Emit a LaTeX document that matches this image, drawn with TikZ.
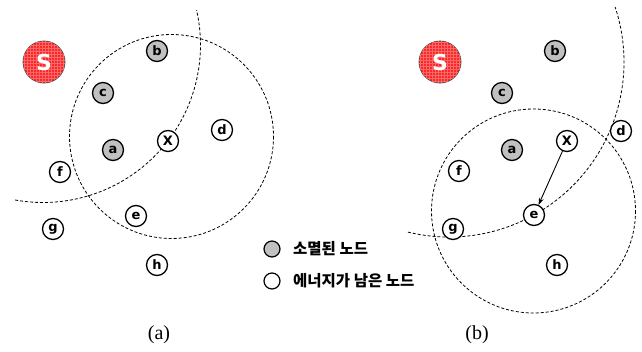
\documentclass[tikz,border=0pt]{standalone}
\usepackage{fontspec}
\setmainfont{Liberation Serif}
\newfontfamily\nodefont{DejaVu Sans}
\newfontfamily\krfont{Noto Sans CJK KR}
\usetikzlibrary{patterns,arrows.meta}
\definecolor{srcred}{RGB}{250,40,40}
\definecolor{deadgray}{RGB}{192,192,192}
\tikzset{
  nd/.style={circle,draw=black,line width=1.3pt,fill=white,minimum size=21pt,inner sep=0pt,
    font=\nodefont\bfseries\fontsize{13}{13}\selectfont},
  dead/.style={nd,fill=deadgray},
  src/.style={circle,draw=black!70,line width=0.8pt,fill=srcred,minimum size=42pt,inner sep=0pt,
    text=white,font=\nodefont\bfseries\fontsize{22}{22}\selectfont,
    postaction={pattern=grid,pattern color=white!30!srcred}},
  rng/.style={draw=black,line width=0.8pt,dash pattern=on 3pt off 2pt},
  leg/.style={circle,draw=black,line width=1.2pt,minimum size=16pt,inner sep=0pt},
  legtext/.style={anchor=west,font=\krfont\bfseries\fontsize{15.5}{16}\selectfont,inner sep=0pt},
  captxt/.style={font=\fontsize{20}{20}\selectfont,inner sep=0pt}
}
\begin{document}
\begin{tikzpicture}[x=1pt,y=-1pt]
\useasboundingbox (0,0) rectangle (642,351);
% ---------- panel (a) ----------
\coordinate (ca) at (43,45);
\coordinate (ra) at (171.5,136.5);
\draw[rng] (ra) circle[radius=102];
\draw[rng] (ca) ++(100.2:157.5) arc[start angle=100.2,end angle=-12.8,radius=157.5];
\node[src] (Sa) at (44,62) {S};
\node[dead] (ba) at (157,51) {b};
\node[dead] (ca1) at (103,93) {c};
\node[dead] (aa) at (113,150) {a};
\node[nd] (Xa) at (168,141) {X};
\node[nd] (da) at (222,130) {d};
\node[nd] (fa) at (60,172) {f};
\node[nd] (ea) at (136,216) {e};
\node[nd] (ga) at (53,229) {g};
\node[nd] (ha) at (157,265) {h};
\node[captxt] (capa) at (159,335) {(a)};
% ---------- panel (b) ----------
\coordinate (cb) at (449,62);
\coordinate (rb) at (533.5,211);
\draw[rng] (rb) circle[radius=102];
\draw[rng] (cb) ++(103.6:175) arc[start angle=103.6,end angle=-18.3,radius=175];
\node[src] (Sb) at (440,62) {S};
\node[dead] (bb) at (555,51) {b};
\node[dead] (cb1) at (502,93) {c};
\node[dead] (ab) at (512,150) {a};
\node[nd] (Xb) at (567,141) {X};
\node[nd] (db) at (621,131) {d};
\node[nd] (fb) at (459,171) {f};
\node[nd] (eb) at (534,215) {e};
\node[nd] (gb) at (453,229) {g};
\node[nd] (hb) at (557,265) {h};
\node[captxt] (capb) at (477,335) {(b)};
\draw[line width=0.9pt,-{Stealth[length=7pt,width=5pt]}] (Xb) -- (eb);
% ---------- legend ----------
\node[leg,fill=deadgray] (lg1) at (272,249) {};
\node[leg,fill=white] (lg2) at (272,281) {};
\node[legtext] (lt1) at (293,249) {소멸된 노드};
\node[legtext] (lt2) at (293,281) {에너지가 남은 노드};
\end{tikzpicture}
\end{document}
